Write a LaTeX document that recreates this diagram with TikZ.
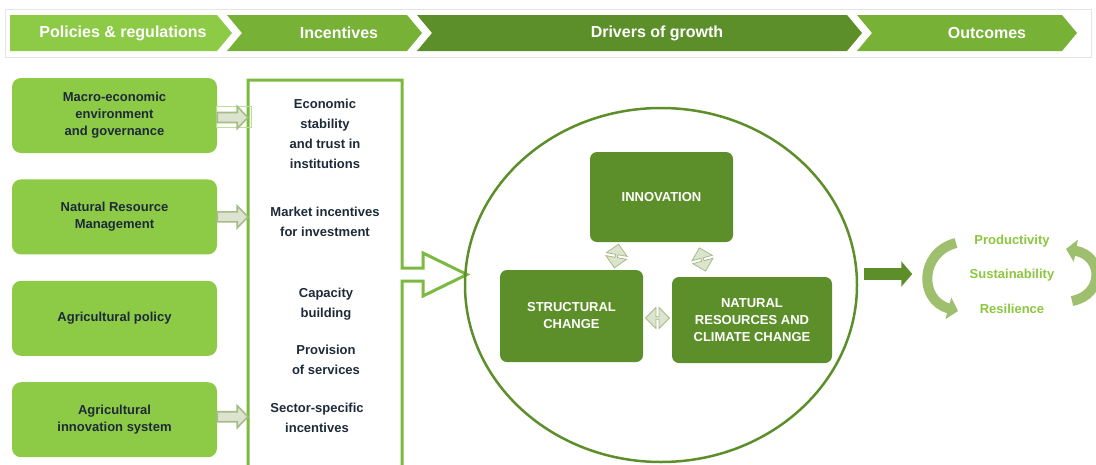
\documentclass[tikz,border=0pt]{standalone}
\usepackage{fontspec}
\setmainfont{Liberation Sans}
\usetikzlibrary{arrows.meta, positioning, calc, shapes.geometric, shapes.arrows}
\definecolor{leafgreen}{HTML}{8DCB47}
\definecolor{midgreen}{HTML}{77B135}
\definecolor{darkgreen}{HTML}{5C8F29}
\definecolor{framegreen}{HTML}{7BBA3E}
\definecolor{inkblue}{HTML}{1E2A38}
\definecolor{palegreen}{HTML}{DCE4CF}
\definecolor{sagegreen}{HTML}{A6BC88}
\definecolor{outgreen}{HTML}{8CC63F}
\definecolor{swirlgreen}{HTML}{9EBF6E}

\begin{document}
\begin{tikzpicture}[x=1pt, y=-1pt, node distance=26pt, font=\bfseries\fontsize{13}{17}\selectfont, >=Latex,
  pol/.style={fill=leafgreen, rounded corners=9pt, minimum width=205pt, minimum height=75pt, align=center, text=inkblue},
  inc/.style={align=center, text=inkblue, font=\bfseries\fontsize{13}{20}\selectfont},
  drv/.style={fill=darkgreen, rounded corners=7pt, align=center, text=white, inner sep=0pt},
  head/.style={text=white, font=\bfseries\fontsize{16}{18}\selectfont},
  feed/.style={draw=sagegreen, fill=palegreen, line width=1.6pt, line join=miter},
  link/.style={double arrow, draw=sagegreen, fill=palegreen, line width=.8pt, minimum height=24pt, minimum width=21pt, double arrow head extend=3pt, inner sep=0pt},
  swirl/.style={draw=swirlgreen, line width=10pt, -{Triangle[length=10pt,width=22pt]}}]
\useasboundingbox (0,0) rectangle (1096,464);
\clip (0,0) rectangle (1096,464);

\draw[black!10, line width=.7pt] (5,9) rectangle (1091,57);
\fill[leafgreen] (10,15) -- (217,15) -- (232,33) -- (217,51) -- (10,51) -- cycle;
\fill[midgreen] (227,15) -- (407,15) -- (422,33) -- (407,51) -- (227,51) -- (242,33) -- cycle;
\fill[darkgreen] (417,15) -- (847,15) -- (862,33) -- (847,51) -- (417,51) -- (432,33) -- cycle;
\fill[midgreen] (857,15) -- (1062,15) -- (1077,33) -- (1062,51) -- (857,51) -- (872,33) -- cycle;
\node[head] (hpol) at (123,33) {Policies \& regulations};
\node[head] (hinc) at (339,33) {Incentives};
\node[head] (hdrv) at (657,33) {Drivers of growth};
\node[head] (hout) at (987,33) {Outcomes};

\node[pol] (macro) at (114.5,115.5) {Macro-economic\\environment\\and governance};
\node[pol, below=of macro] (nrm) {Natural Resource\\Management};
\node[pol, below=of nrm] (agpol) {Agricultural policy};
\node[pol, below=of agpol] (ais) {Agricultural\\innovation system};

\coordinate (ftop) at (248,80);
\draw[framegreen, line width=3pt, line join=miter] (248,470) -- (ftop) -- (402,80) -- (402,268) -- (423,268) -- (423,253)
  -- (467,274.5) -- (423,296) -- (423,281) -- (402,281) -- (402,470);

\draw[leafgreen!60, line width=1pt] ($(macro.east)+(-1,-9)$) rectangle ($(macro.east -| ftop)+(3,12)$);
\draw[feed] ($(macro.east)+(0,-3)$) -- ++(20,0) -- ++(0,-6) -- ($(macro.east -| ftop)+(0,2)$) -- ($(macro.east)+(20,13)$) -- ++(0,-6) -- ++(-20,0) -- cycle;
\draw[feed] ($(nrm.east)+(0,-5)$) -- ++(20,0) -- ++(0,-6) -- ($(nrm.east -| ftop)$) -- ($(nrm.east)+(20,11)$) -- ++(0,-6) -- ++(-20,0) -- cycle;
\draw[feed] ($(ais.east)+(0,-8)$) -- ++(20,0) -- ++(0,-6) -- ($(ais.east -| ftop)+(0,-3)$) -- ($(ais.east)+(20,8)$) -- ++(0,-6) -- ++(-20,0) -- cycle;

\node[inc] (stab) at (325,134) {Economic\\stability\\and trust in\\institutions};
\node[inc] (mkt) at (325,222) {Market incentives\\for investment};
\node[inc] (cap) at (326,304) {Capacity\\building};
\node[inc] (serv) at (326,360) {Provision\\of services};
\node[inc] (sect) at (317,418) {Sector-specific\\incentives};

\node[draw=darkgreen, line width=2.5pt, ellipse, minimum width=392pt, minimum height=354pt] (drivers) at (661,285) {};
\node[drv, minimum width=143pt, minimum height=90pt] (inno) at (661.5,197) {INNOVATION};
\node[drv, minimum width=143pt, minimum height=92pt] (struct) at (571.5,316) {STRUCTURAL\\CHANGE};
\node[drv, minimum width=160pt, minimum height=86pt] (natres) at (752,320) {NATURAL\\RESOURCES AND\\CLIMATE CHANGE};
\node[link, rotate=80] (l1) at ($(inno.south west)!.5!(struct.north east)$) {};
\node[link, rotate=105] (l2) at ($(inno.south east)!.5!(natres.north west)$) {};
\node[link] (l3) at ($(struct.east)!.5!(natres.west)$) {};

\node[align=center, text=outgreen, font=\bfseries\fontsize{13}{34.5}\selectfont] (outc) at (1012,274) {Productivity\\Sustainability\\Resilience};
\draw[darkgreen, line width=12pt, -{Triangle[length=11pt,width=25pt]}] ($(drivers.east |- outc)+(6,0)$) -- ++(48,0);
\draw[swirl] (956,243) .. controls (920,252) and (918,300) .. (958,311);
\draw[swirl] (1072,301) .. controls (1104,295) and (1104,256) .. (1066,249);
\end{tikzpicture}
\end{document}
